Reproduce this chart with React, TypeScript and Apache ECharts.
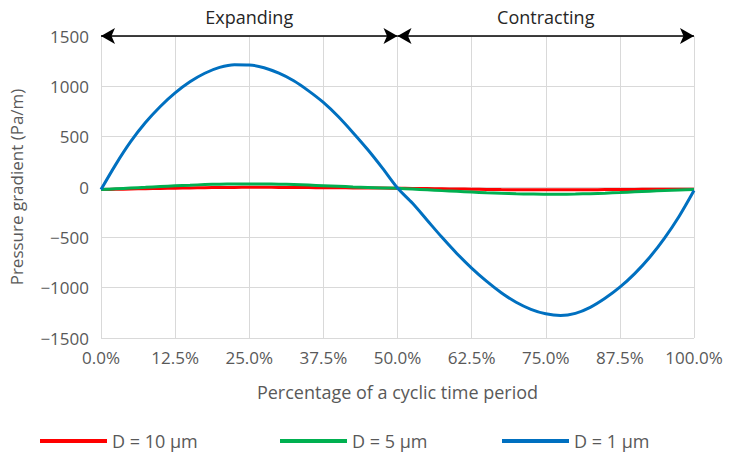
import React, { useEffect, useRef } from "react";
import * as echarts from "echarts";

const percentTime = [
  0, 2.5, 5, 7.5, 10, 12.5, 15, 17.5, 20, 22.5, 25, 27.5, 30, 32.5, 35, 37.5, 40, 42.5, 45, 47.5, 50,
  52.5, 55, 57.5, 60, 62.5, 65, 67.5, 70, 72.5, 75, 77.5, 80, 82.5, 85, 87.5, 90, 92.5, 95, 97.5, 100,
];

const d10 = [
  -26, -23, -20, -17, -14, -12, -9, -7, -5, -4, -3, -3, -4, -5, -6, -7, -8, -9, -10, -11, -12,
  -14, -16, -18, -20, -22, -24, -26, -27, -28, -28, -28, -28, -27, -26, -25, -24, -23, -22, -22, -22,
];

const d5 = [
  -26, -18, -10, -3, 5, 12, 18, 24, 28, 30, 31, 30, 28, 24, 19, 13, 7, 1, -4, -9, -13,
  -20, -28, -36, -43, -50, -57, -62, -67, -70, -72, -72, -70, -66, -61, -55, -48, -41, -35, -29, -24,
];

const d1 = [
  -26, 225, 450, 640, 800, 935, 1045, 1130, 1188, 1215, 1212, 1185, 1130, 1055, 955, 840, 700, 540, 370, 185, -10,
  -160, -330, -500, -660, -805, -935, -1050, -1145, -1215, -1260, -1277, -1255, -1195, -1105, -995, -860, -700, -510, -290, -35,
];

const seriesNames = ["D = 10 µm", "D = 5 µm", "D = 1 µm"];
const seriesColors = ["#FF0000", "#00B050", "#0070C0"];
const phaseNames = ["Expanding", "Contracting"];
const phaseBounds = [
  [0, 50],
  [50, 100],
];

const FONT = "'Open Sans', sans-serif";

export default function App() {
  const ref = useRef<HTMLDivElement>(null);

  useEffect(() => {
    if (!ref.current) return;
    const chart = echarts.init(ref.current, undefined, { renderer: "svg" });
    const allData = [d10, d5, d1];

    const series: any[] = allData.map((vals, i) => ({
      name: seriesNames[i],
      type: "line",
      data: percentTime.map((x, j) => [x, vals[j]]),
      showSymbol: false,
      smooth: 0.3,
      lineStyle: { color: seriesColors[i], width: 3 },
      itemStyle: { color: seriesColors[i] },
      z: 3 + i,
    }));

    series.push({
      name: "phases",
      type: "line",
      data: [],
      markLine: {
        silent: true,
        symbol: ["arrow", "arrow"],
        symbolSize: [12, 14],
        lineStyle: { color: "#000000", width: 1.5, type: "solid" },
        label: {
          show: true,
          position: "insideMiddleTop",
          distance: 10,
          color: "#262626",
          fontFamily: FONT,
          fontSize: 18,
          formatter: (p: any) => p.name,
        },
        data: phaseBounds.map((b, i) => [
          { name: phaseNames[i], coord: [b[0], 1500] },
          { coord: [b[1], 1500] },
        ]),
      },
      z: 10,
    });

    const legendLefts = [35, 275, 497];

    chart.setOption({
      animation: false,
      backgroundColor: "#ffffff",
      grid: { left: 101, right: 39, top: 36, bottom: 125 },
      xAxis: {
        type: "value",
        min: 0,
        max: 100,
        interval: 12.5,
        name: "Percentage of a cyclic time period",
        nameLocation: "middle",
        nameGap: 45,
        nameTextStyle: { color: "#595959", fontFamily: FONT, fontSize: 18 },
        axisLine: { show: true, lineStyle: { color: "#d9d9d9", width: 1 } },
        axisTick: { show: false },
        splitLine: { show: true, lineStyle: { color: "#d9d9d9", width: 1 } },
        axisLabel: {
          color: "#595959",
          fontFamily: FONT,
          fontSize: 17,
          margin: 11,
          formatter: (v: number) => v.toFixed(1) + "%",
        },
      },
      yAxis: {
        type: "value",
        min: -1500,
        max: 1500,
        interval: 500,
        name: "Pressure gradient (Pa/m)",
        nameLocation: "middle",
        nameGap: 76,
        nameTextStyle: { color: "#595959", fontFamily: FONT, fontSize: 17 },
        axisLine: { show: true, lineStyle: { color: "#d9d9d9", width: 1 } },
        axisTick: { show: false },
        splitLine: { show: true, lineStyle: { color: "#d9d9d9", width: 1 } },
        axisLabel: {
          color: "#595959",
          fontFamily: FONT,
          fontSize: 17,
          margin: 12,
          formatter: (v: number) => (v < 0 ? "\u2212" + Math.abs(v) : String(v)),
        },
      },
      legend: seriesNames.map((n, i) => ({
        data: [{ name: n, icon: "rect" }],
        left: legendLefts[i],
        top: 427,
        itemWidth: 67,
        itemHeight: 4,
        textStyle: { color: "#595959", fontFamily: FONT, fontSize: 18 },
        selectedMode: false,
      })),
      series,
    });

    return () => chart.dispose();
  }, []);

  return (
    <div
      ref={ref}
      style={{ position: "fixed", left: 0, top: 0, width: 733, height: 463 }}
    />
  );
}
